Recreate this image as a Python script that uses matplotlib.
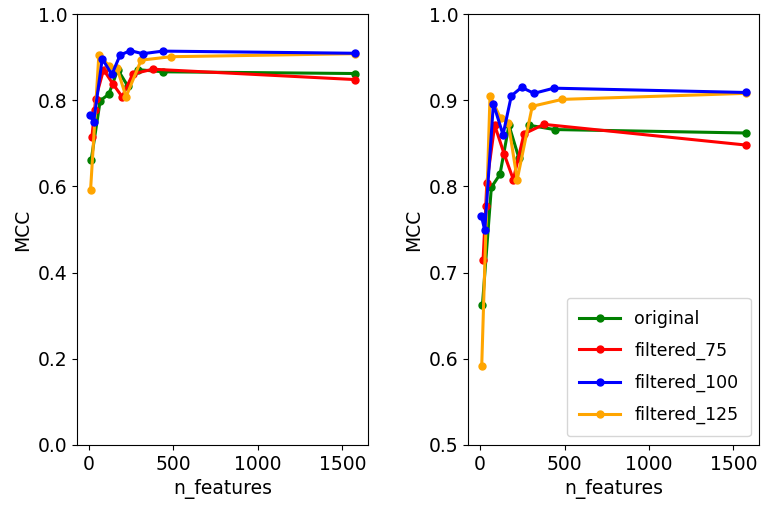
import matplotlib
matplotlib.use("Agg")
import matplotlib.pyplot as plt

# n_features / MCC per feature set
orig_n = [14, 67, 118, 171, 230, 289, 441, 1574]
orig_mcc = [0.662, 0.799, 0.814, 0.871, 0.833, 0.871, 0.866, 0.862]

f75_n = [18, 34, 40, 87, 142, 197, 260, 378, 1574]
f75_mcc = [0.715, 0.777, 0.804, 0.871, 0.838, 0.808, 0.861, 0.872, 0.848]

f100_n = [8, 28, 79, 136, 185, 246, 319, 437, 1574]
f100_mcc = [0.766, 0.749, 0.896, 0.860, 0.905, 0.915, 0.908, 0.914, 0.909]

f125_n = [10, 59, 122, 167, 220, 309, 486, 1574]
f125_mcc = [0.592, 0.905, 0.879, 0.874, 0.808, 0.893, 0.901, 0.908]

series = [
    ("original", orig_n, orig_mcc, "green"),
    ("filtered_75", f75_n, f75_mcc, "red"),
    ("filtered_100", f100_n, f100_mcc, "blue"),
    ("filtered_125", f125_n, f125_mcc, "orange"),
]

plt.rcParams["font.size"] = 13.5

fig = plt.figure(figsize=(7.7, 5.13), dpi=100)
ax1 = fig.add_axes([0.100, 0.1326, 0.378, 0.840])
ax2 = fig.add_axes([0.608, 0.1326, 0.378, 0.840])

for ax in (ax1, ax2):
    for label, n, mcc, color in series:
        # blue drawn last so its end point sits on top like the original
        z = 3 if color == "blue" else 2
        ax.plot(n, mcc, marker="o", markersize=5, linewidth=2.2, color=color,
                label=label, zorder=z)
    ax.set_xlabel("n_features")
    ax.set_ylabel("MCC")
    ax.set_xticks([0, 500, 1000, 1500])

ax1.set_ylim(0, 1.0)
ax2.set_ylim(0.5, 1.0)
ax2.legend(loc="lower right", fontsize=12.5, borderpad=0.7, labelspacing=0.8,
           handlelength=2.4)

fig.savefig("out.png", dpi=100)
